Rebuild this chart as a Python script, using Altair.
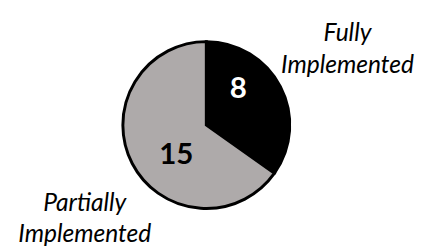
import altair as alt
import pandas as pd

categories = ["Fully Implemented", "Partially Implemented"]
values = [8, 15]
slice_colors = ["#000000", "#AEAAAA"]
outer_labels = ["Fully\nImplemented", "Partially\nImplemented"]

df = pd.DataFrame({
    "category": categories,
    "value": values,
    "outer": outer_labels,
    "order": list(range(len(categories))),
})

CX, CY = 202, 117

base = alt.Chart(df).encode(
    theta=alt.Theta("value:Q", stack=True),
    order=alt.Order("order:Q"),
    x=alt.value(CX),
    y=alt.value(CY),
)

pie = base.mark_arc(outerRadius=85, stroke="#000000", strokeWidth=3).encode(
    color=alt.Color("category:N", scale=alt.Scale(domain=categories, range=slice_colors), legend=None)
)


def num_layer(cat, color, dx, dy):
    return base.transform_calculate(
        t=f"datum.category == '{cat}' ? format(datum.value, 'd') : ''"
    ).mark_text(
        radius=48, font="Lato", fontWeight="bold", fontSize=30, color=color,
        dx=dx, dy=dy, align="center", baseline="middle"
    ).encode(text="t:N")


def outer_layer(cat, dx, dy):
    return base.transform_calculate(
        t=f"datum.category == '{cat}' ? datum.outer : ''"
    ).mark_text(
        radius=162, font="Lato", fontStyle="italic", fontSize=25, color="#000000",
        dx=dx, dy=dy, align="center", baseline="middle", lineBreak="\n", lineHeight=32
    ).encode(text="t:N")


chart = alt.layer(
    pie,
    num_layer("Fully Implemented", "#FFFFFF", -10, -14),
    num_layer("Partially Implemented", "#000000", 12, 9),
    outer_layer("Fully Implemented", 0, -19),
    outer_layer("Partially Implemented", 20, 5),
).properties(
    width=438, height=242, padding=0,
    autosize=alt.AutoSizeParams(type="none"),
).configure_view(stroke=None)

chart.save("out.html", embed_options={"renderer": "svg", "actions": False})
